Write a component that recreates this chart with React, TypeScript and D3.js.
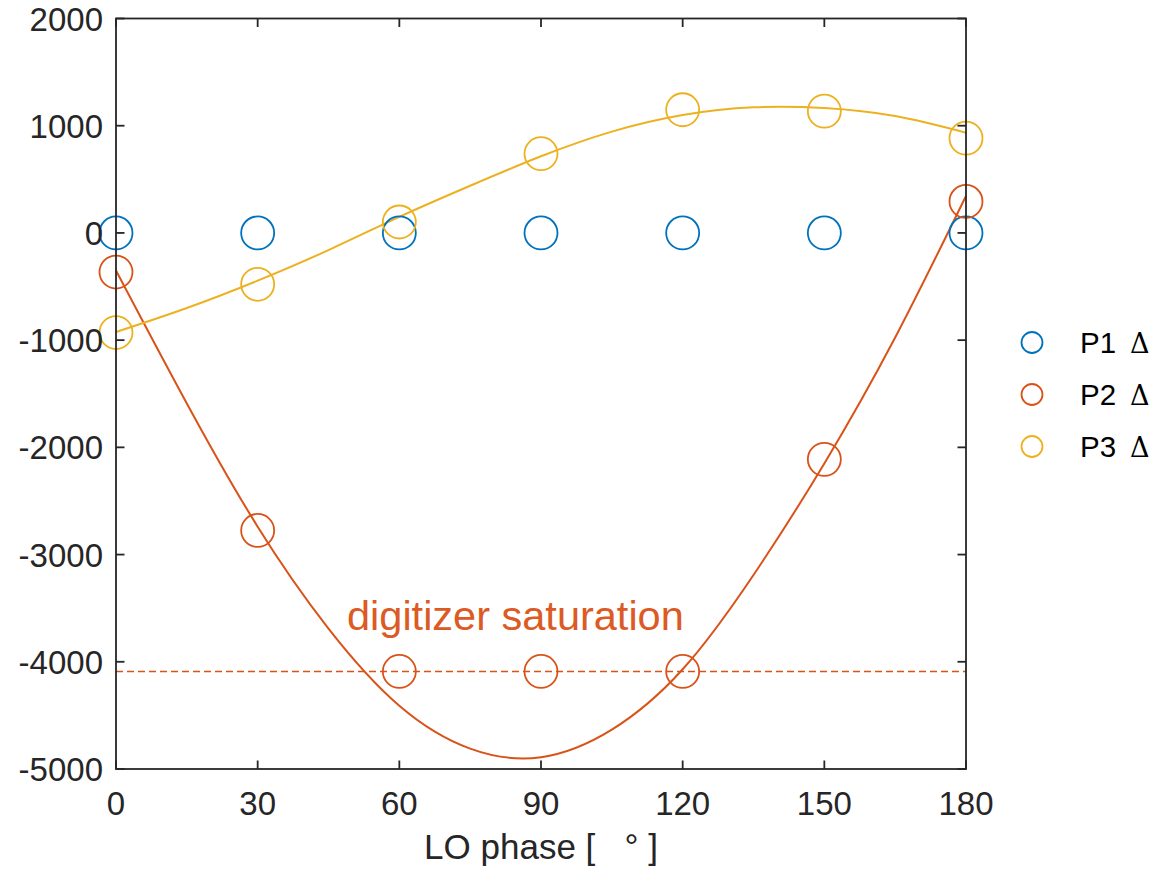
import React, { useEffect, useRef } from 'react';
import * as d3 from 'd3';

const WIDTH = 1158;
const HEIGHT = 871;

// measured LO phase (deg)
const phases = [0, 30, 60, 90, 120, 150, 180];
const p1Delta = [0, 0, 0, 0, 0, 0, 0];
const p2Delta = [-365, -2775, -4090, -4090, -4090, -2112, 294];
const p3Delta = [-929, -479, 102, 739, 1149, 1136, 884];

// fitted curves, every 15 deg
const fitPhases = [0, 15, 30, 45, 60, 75, 90, 105, 120, 135, 150, 165, 180];
const p2Fit = [-350, -1590, -2740, -3690, -4410, -4810, -4890, -4633, -4070, -3190, -2150, -975, 345];
const p3Fit = [-924, -700, -445, -160, 150, 440, 715, 945, 1100, 1172, 1165, 1090, 935];

const saturationLevel = -4090;
const xTicks = [0, 30, 60, 90, 120, 150, 180];
const yTicks = [-5000, -4000, -3000, -2000, -1000, 0, 1000, 2000];

const legendLabels = ['P1', 'P2', 'P3'];
const colors = ['#0072BD', '#D95319', '#EDB120'];

const FONT = '"Liberation Sans", Arial, Helvetica, sans-serif';

export default function App() {
  const ref = useRef<SVGSVGElement>(null);

  useEffect(() => {
    const svg = d3.select(ref.current);
    svg.selectAll('*').remove();

    const left = 116, right = 966, top = 18.5, bottom = 769;
    const x = d3.scaleLinear().domain([0, 180]).range([left, right]);
    const y = d3.scaleLinear().domain([-5000, 2000]).range([bottom, top]);

    const ink = '#262626';

    // fit curves
    const line = d3.line<[number, number]>()
      .x((d) => x(d[0]))
      .y((d) => y(d[1]))
      .curve(d3.curveNatural);

    [p2Fit, p3Fit].forEach((vals, i) => {
      svg.append('path')
        .attr('d', line(fitPhases.map((p, k) => [p, vals[k]] as [number, number])))
        .attr('fill', 'none')
        .attr('stroke', colors[i + 1])
        .attr('stroke-width', 2);
    });

    // saturation line
    svg.append('line')
      .attr('x1', x(0)).attr('x2', x(180))
      .attr('y1', y(saturationLevel)).attr('y2', y(saturationLevel))
      .attr('stroke', colors[1])
      .attr('stroke-width', 1.5)
      .attr('stroke-dasharray', '7,4');

    svg.append('text')
      .attr('x', 347)
      .attr('y', 630)
      .attr('fill', '#DC5A23')
      .attr('font-family', FONT)
      .attr('font-size', 41.5)
      .text('digitizer saturation');

    // markers
    [p1Delta, p2Delta, p3Delta].forEach((vals, i) => {
      svg.append('g')
        .selectAll('circle')
        .data(vals)
        .enter()
        .append('circle')
        .attr('cx', (d, k) => x(phases[k]))
        .attr('cy', (d) => y(d))
        .attr('r', 16.5)
        .attr('fill', 'none')
        .attr('stroke', colors[i])
        .attr('stroke-width', 1.8);
    });

    // box
    svg.append('rect')
      .attr('x', left).attr('y', top)
      .attr('width', right - left).attr('height', bottom - top)
      .attr('fill', 'none')
      .attr('stroke', ink)
      .attr('stroke-width', 1.8);

    const tickLen = 8.5;
    const axes = svg.append('g').attr('stroke', ink).attr('stroke-width', 1.8);
    xTicks.forEach((t) => {
      axes.append('line').attr('x1', x(t)).attr('x2', x(t)).attr('y1', bottom).attr('y2', bottom - tickLen);
      axes.append('line').attr('x1', x(t)).attr('x2', x(t)).attr('y1', top).attr('y2', top + tickLen);
    });
    yTicks.forEach((t) => {
      axes.append('line').attr('x1', left).attr('x2', left + tickLen).attr('y1', y(t)).attr('y2', y(t));
      axes.append('line').attr('x1', right).attr('x2', right - tickLen).attr('y1', y(t)).attr('y2', y(t));
    });

    svg.append('g')
      .selectAll('text')
      .data(xTicks)
      .enter()
      .append('text')
      .attr('x', (d) => x(d))
      .attr('y', 815)
      .attr('text-anchor', 'middle')
      .attr('fill', ink)
      .attr('font-family', FONT)
      .attr('font-size', 33)
      .text((d) => d);

    svg.append('g')
      .selectAll('text')
      .data(yTicks)
      .enter()
      .append('text')
      .attr('x', 103)
      .attr('y', (d) => y(d) + 12)
      .attr('text-anchor', 'end')
      .attr('fill', ink)
      .attr('font-family', FONT)
      .attr('font-size', 33)
      .text((d) => d);

    svg.append('text')
      .attr('x', (left + right) / 2)
      .attr('y', 859)
      .attr('text-anchor', 'middle')
      .attr('fill', ink)
      .attr('font-family', FONT)
      .attr('font-size', 35)
      .text('LO phase [\u00A0\u00A0\u00A0°\u00A0]');

    // legend
    const legend = svg.append('g');
    legendLabels.forEach((lab, i) => {
      const ly = 342.5 + i * 52;
      legend.append('circle')
        .attr('cx', 1032).attr('cy', ly).attr('r', 10.5)
        .attr('fill', 'none')
        .attr('stroke', colors[i])
        .attr('stroke-width', 1.8);
      const t = legend.append('text')
        .attr('x', 1080).attr('y', ly + 10.5)
        .attr('fill', '#000')
        .attr('font-family', FONT)
        .attr('font-size', 29.5);
      t.append('tspan').text(lab);
      t.append('tspan')
        .attr('x', 1130)
        .attr('font-family', '"DejaVu Serif", "Liberation Serif", serif')
        .attr('font-size', 27)
        .text('Δ');
    });
  }, []);

  return (
    <svg
      ref={ref}
      width={WIDTH}
      height={HEIGHT}
      style={{ position: 'absolute', left: 0, top: 0, background: '#fff' }}
    ></svg>
  );
}
